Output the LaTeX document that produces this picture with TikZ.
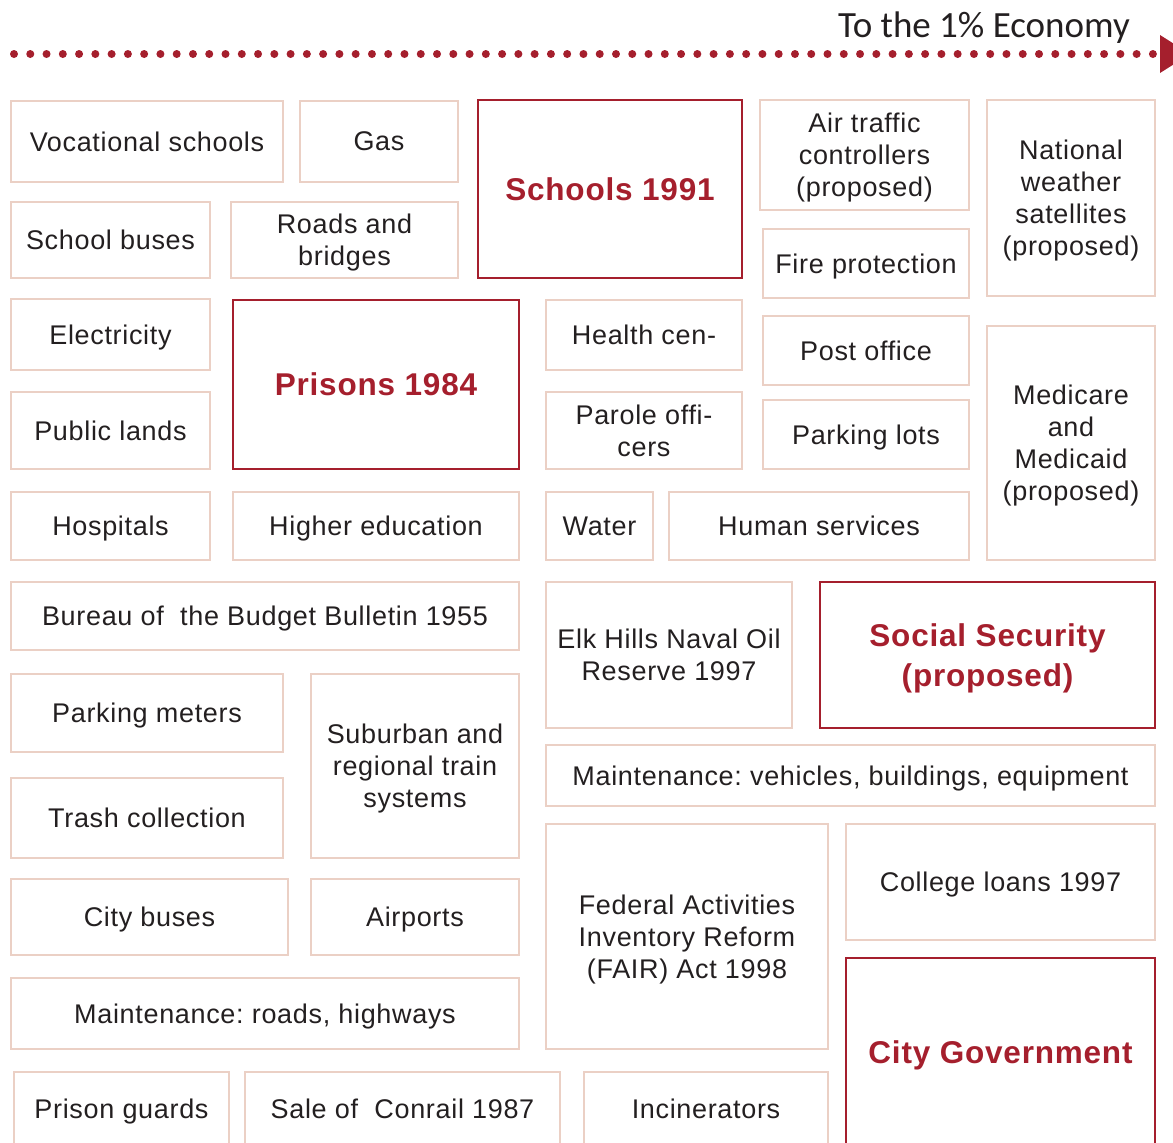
\documentclass[tikz,border=0pt]{standalone}
\usepackage{fontspec}
\setmainfont[LetterSpace=2.5]{Liberation Sans}
\newfontfamily\titlefont{Carlito}
\definecolor{boxline}{HTML}{EBD0C5}
\definecolor{redone}{HTML}{A51F2D}
\definecolor{txt}{HTML}{231F20}
\frenchspacing
\newcommand{\gb}[7]{\node[#1, minimum width={(#5-#3)*1pt}, minimum height={(#6-#4)*1pt}] (#2) at ({(#3+#5)/2},{(#4+#6)/2}) {#7};}
\begin{document}
\begin{tikzpicture}[x=1pt,y=-1pt,
  lbox/.style={draw=boxline, line width=2.6pt, text=txt, align=center, inner sep=0pt,
    text depth=0pt, font=\fontsize{27}{32}\selectfont},
  rbox/.style={draw=redone, line width=2.8pt, text=redone, align=center, inner sep=0pt,
    text depth=0pt, font=\bfseries\fontsize{31.5}{40}\selectfont}]
\useasboundingbox (0,0) rectangle (1173,1143);
\clip (0,0) rectangle (1173,1143);
% title and dotted arrow
\node[anchor=base east, inner sep=0pt, text=txt, font=\titlefont\fontsize{37}{40}\selectfont] (title) at (1130,37) {To the 1\% Economy};
\coordinate (dotA) at (14,54);
\coordinate (dotB) at (1153,54);
\draw[redone, line width=8pt, line cap=round, dash pattern=on 0pt off 16.27pt] (dotA) -- (dotB);
\fill[redone] (1160,35) -- (1190,54) -- (1160,73) -- cycle;
% boxes
\gb{lbox}{voc}{11}{101}{283}{182}{Vocational schools}
\gb{lbox}{gas}{300}{101}{458}{182}{Gas}
\gb{rbox}{schools}{478}{100}{742}{278}{Schools 1991}
\gb{lbox}{air}{760}{100}{969}{210}{Air traffic\\controllers\\(proposed)}
\gb{lbox}{nws}{987}{100}{1155}{296}{National\\weather\\satellites\\(proposed)}
\gb{lbox}{sbus}{11}{202}{210}{278}{School buses}
\gb{lbox}{roads}{231}{202}{458}{278}{Roads and\\bridges}
\gb{lbox}{fire}{763}{229}{969}{298}{Fire protection}
\gb{lbox}{elec}{11}{299}{210}{370}{Electricity}
\gb{rbox}{prisons}{233}{300}{519}{469}{Prisons 1984}
\gb{lbox}{health}{546}{300}{742}{370}{Health cen-}
\gb{lbox}{post}{763}{316}{969}{385}{Post office}
\gb{lbox}{medi}{987}{326}{1155}{560}{Medicare\\and\\Medicaid\\(proposed)}
\gb{lbox}{lands}{11}{392}{210}{469}{Public lands}
\gb{lbox}{parole}{546}{392}{742}{469}{Parole offi-\\cers}
\gb{lbox}{plots}{763}{400}{969}{469}{Parking lots}
\gb{lbox}{hosp}{11}{492}{210}{560}{Hospitals}
\gb{lbox}{higher}{233}{492}{519}{560}{Higher education}
\gb{lbox}{water}{546}{492}{653}{560}{Water}
\gb{lbox}{human}{669}{492}{969}{560}{Human services}
\gb{lbox}{bureau}{11}{582}{519}{650}{Bureau of\ \ the Budget Bulletin 1955}
\gb{lbox}{elk}{546}{582}{792}{728}{Elk Hills Naval Oil\\Reserve 1997}
\gb{rbox}{social}{820}{582}{1155}{728}{Social Security\\(proposed)}
\gb{lbox}{meters}{11}{674}{283}{752}{Parking meters}
\gb{lbox}{train}{311}{674}{519}{858}{Suburban and\\regional train\\systems}
\gb{lbox}{mveh}{546}{745}{1155}{806}{Maintenance: vehicles, buildings, equipment}
\gb{lbox}{trash}{11}{778}{283}{858}{Trash collection}
\gb{lbox}{fair}{546}{824}{828}{1049}{Federal Activities\\Inventory Reform\\(FAIR) Act 1998}
\gb{lbox}{college}{846}{824}{1155}{940}{College loans 1997}
\gb{lbox}{cbus}{11}{879}{288}{955}{City buses}
\gb{lbox}{airports}{311}{879}{519}{955}{Airports}
\gb{rbox}{city}{846}{958}{1155}{1146}{City Government}
\gb{lbox}{mroads}{11}{978}{519}{1049}{Maintenance: roads, highways}
\gb{lbox}{guards}{14}{1072}{229}{1146}{Prison guards}
\gb{lbox}{conrail}{245}{1072}{560}{1146}{Sale of\ \ Conrail 1987}
\gb{lbox}{incin}{584}{1072}{828}{1146}{Incinerators}
\end{tikzpicture}
\end{document}
